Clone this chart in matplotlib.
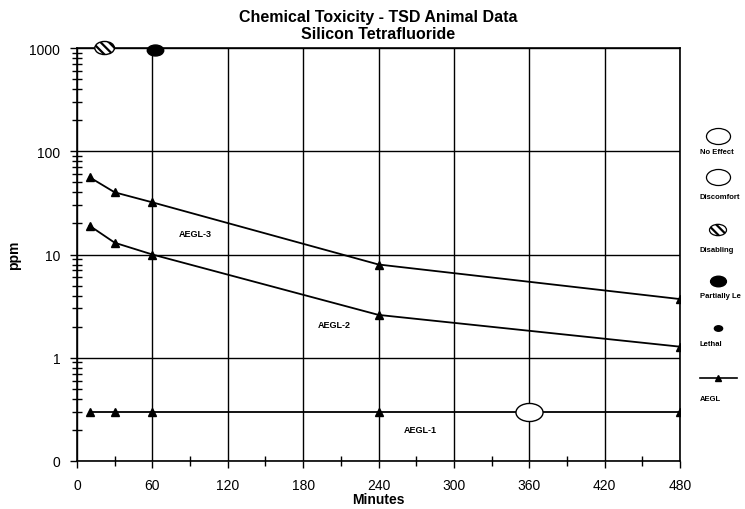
import matplotlib
matplotlib.use("Agg")
import matplotlib.pyplot as plt
from matplotlib.path import Path
from matplotlib.transforms import Affine2D
from matplotlib.ticker import FixedLocator, LogLocator, NullFormatter

plt.rcParams['font.family'] = ['Liberation Sans', 'DejaVu Sans']
plt.rcParams['hatch.linewidth'] = 1.6

# Data
aegl_minutes = [10, 30, 60, 240, 480]
aegl3 = [56, 40, 32, 8.0, 3.7]
aegl2 = [19, 13, 10, 2.6, 1.28]
aegl1 = [0.3, 0.3, 0.3, 0.3, 0.3]

no_effect_x = [360]
no_effect_y = [0.3]
disabling_x = [22]
disabling_y = [1000]
partially_lethal_x = [62]
partially_lethal_y = [950]

line_labels = ["AEGL-3", "AEGL-2", "AEGL-1"]
line_label_x = [94, 205, 273]
line_label_y = [16, 2.1, 0.2]

x_ticks = [0, 60, 120, 180, 240, 300, 360, 420, 480]
y_ticks = [0.1, 1, 10, 100, 1000]
y_ticklabels = ["0", "1", "10", "100", "1000"]

legend_labels = ["No Effect", "Discomfort", "Disabling", "Partially Le", "Lethal", "AEGL"]

ellipse = Path.unit_circle().transformed(Affine2D().scale(1.5, 1.0))

fig = plt.figure(figsize=(7.45, 5.10), dpi=100)
ax = fig.add_axes([77/745, 1-462/510, (680-77)/745, (462-49)/510])
ax.set_yscale('log')
ax.set_xlim(0, 480)
ax.set_ylim(0.1, 1000)

for s in ax.spines.values():
    s.set_linewidth(1.2)

ax.set_xticks(x_ticks)
ax.xaxis.set_minor_locator(FixedLocator([30, 90, 150, 210, 270, 330, 390, 450]))
ax.set_yticks(y_ticks)
ax.set_yticklabels(y_ticklabels)
ax.yaxis.set_minor_locator(LogLocator(base=10, subs=range(2, 10)))
ax.yaxis.set_minor_formatter(NullFormatter())
ax.tick_params(axis='both', which='major', direction='out', length=5, width=1, labelsize=10, pad=7)
ax.tick_params(axis='both', which='minor', direction='inout', length=7, width=1)
ax.grid(True, which='major', color='black', linewidth=1)
ax.set_axisbelow(True)

for yv in (aegl3, aegl2, aegl1):
    ax.plot(aegl_minutes, yv, color='black', linewidth=1.3, marker='^', markersize=6, zorder=3)

ax.scatter(no_effect_x, no_effect_y, marker=ellipse, s=380, facecolor='white', edgecolor='black', linewidth=1, zorder=4)
ax.scatter(disabling_x, disabling_y, marker=ellipse, s=200, facecolor='white', edgecolor='black', hatch='\\\\\\\\', linewidth=1, zorder=4, clip_on=False)
ax.scatter(partially_lethal_x, partially_lethal_y, marker=ellipse, s=140, facecolor='black', edgecolor='black', zorder=4, clip_on=False)

for t, x, y in zip(line_labels, line_label_x, line_label_y):
    ax.text(x, y, t, fontsize=6.5, fontweight='bold', ha='center', va='center')

ax.set_xlabel("Minutes", fontsize=10, fontweight='bold', labelpad=0)
ax.set_ylabel("ppm", fontsize=10, fontweight='bold', labelpad=6)
ax.set_title("Chemical Toxicity - TSD Animal Data\nSilicon Tetrafluoride", fontsize=11.5, fontweight='bold', pad=7)

# Legend drawn in a pixel-coordinate axes on the right
lax = fig.add_axes([0, 0, 1, 1], facecolor='none')
lax.set_xlim(0, 745)
lax.set_ylim(510, 0)
lax.axis('off')
lx = 718
lax.scatter([lx], [137], marker=ellipse, s=300, facecolor='white', edgecolor='black', linewidth=0.9)
lax.scatter([lx], [178], marker=ellipse, s=300, facecolor='white', edgecolor='black', linewidth=0.9)
lax.scatter([lx], [231], marker=ellipse, s=150, facecolor='white', edgecolor='black', hatch='\\\\\\\\', linewidth=0.9)
lax.scatter([lx], [282], marker=ellipse, s=130, facecolor='black', edgecolor='black')
lax.scatter([lx], [329], marker=ellipse, s=35, facecolor='black', edgecolor='black')
lax.plot([700, 737], [379, 379], color='black', linewidth=1.2)
lax.plot([lx], [379], marker='^', color='black', markersize=5)
label_y = [153, 198, 251, 297, 345, 400]
for t, y in zip(legend_labels, label_y):
    lax.text(700, y, t, fontsize=5.5, fontweight='bold', ha='left', va='center')

fig.savefig("out.png", dpi=100)
